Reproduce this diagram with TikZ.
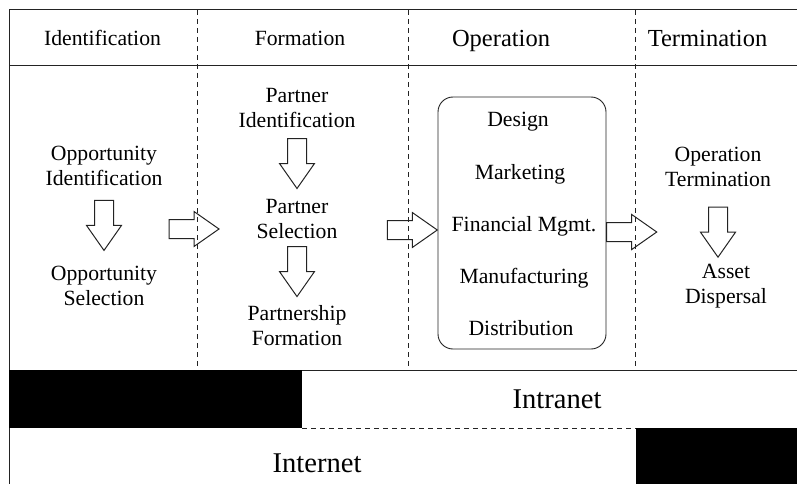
\documentclass[tikz,border=0pt]{standalone}
\usepackage{fontspec}
\setmainfont{Liberation Serif}
\usetikzlibrary{calc, positioning}
\definecolor{linecolor}{RGB}{35,35,35}
\definecolor{barcolor}{RGB}{0,0,0}

\begin{document}
\begin{tikzpicture}[x=1pt, y=-1pt,
  % Node styles
  phasehead/.style={
    anchor=base,
    inner sep=0pt,
    font=\fontsize{21.7}{25}\selectfont
  },
  stepnode/.style={
    anchor=base,
    inner sep=0pt,
    align=center,
    font=\fontsize{21.7}{25}\selectfont
  },
  opsbox/.style={
    rectangle,
    rounded corners=15pt,
    draw=linecolor,
    line width=0.9pt,
    minimum width=168pt,
    minimum height=252pt,
    inner sep=0pt
  },
  netlabel/.style={
    anchor=base,
    inner sep=0pt,
    font=\fontsize{28.6}{32}\selectfont
  },
  frameline/.style={draw=linecolor, line width=1pt},
  phasesep/.style={draw=linecolor, line width=0.8pt, dash pattern=on 5pt off 4pt},
  % hollow block arrow, 50pt long, centred between its two ends
  blockarrow/.style={
    draw=linecolor,
    line width=1pt,
    line join=miter,
    to path={
      let \p1=($(\tikztostart)!0.5!(\tikztotarget)$),
          \p2=($(\p1)!25pt!(\tikztostart)$),
          \p3=($(\p1)!25pt!(\tikztotarget)$),
          \p4=($(\p3)!25pt!(\p2)$)
      in ($(\p2)!9.5pt!90:(\p3)$) -- ($(\p4)!9.5pt!-90:(\p2)$)
         -- ($(\p4)!17.5pt!-90:(\p2)$) -- (\p3)
         -- ($(\p4)!17.5pt!90:(\p2)$) -- ($(\p4)!9.5pt!90:(\p2)$)
         -- ($(\p2)!9.5pt!-90:(\p3)$) -- cycle
    }
  }
]
\useasboundingbox (0,0) rectangle (797,484);

% ===== FRAME =====
\draw[frameline] (797,10) -- (9,10) -- (9,484);
\draw[frameline] (9,66) -- (797,66);
\draw[frameline] (9,370) -- (797,370);
\draw[phasesep] (197,10) -- (197,370);
\draw[phasesep] (408,10) -- (408,370);
\draw[phasesep] (635,10) -- (635,370);

% ===== PHASE HEADINGS =====
\node[phasehead] (h-ident) at (102.5,46) {Identification};
\node[phasehead] (h-form) at (300,46) {Formation};
\node[phasehead, font=\fontsize{24.5}{28}\selectfont] (h-oper) at (501,47) {Operation};
\node[phasehead, font=\fontsize{24.5}{28}\selectfont] (h-term) at (707.5,47) {Termination};

% ===== IDENTIFICATION =====
\node[stepnode] (oppid) at (104,185) {Opportunity\\Identification};
\node[stepnode] (oppsel) at (104,305) {Opportunity\\Selection};

% ===== FORMATION =====
\node[stepnode] (parid) at (297,128) {Partner\\Identification};
\node[stepnode] (parsel) at (297,238) {Partner\\Selection};
\node[stepnode] (parform) at (297,345) {Partnership\\Formation};

% ===== OPERATION =====
\node[opsbox] (ops) at (522,223) {};
\node[stepnode] (design) at (518,127) {Design};
\node[stepnode] (market) at (520,179) {Marketing};
\node[stepnode] (finance) at (524,231) {Financial Mgmt.};
\node[stepnode] (manuf) at (524,283) {Manufacturing};
\node[stepnode] (distrib) at (521,335) {Distribution};

% ===== TERMINATION =====
\node[stepnode] (optrm) at (718,186) {Operation\\Termination};
\node[stepnode] (asset) at (726,303) {Asset\\Dispersal};
\coordinate (asset-top) at ([yshift=25pt]asset.base);

% ===== ARROWS: within phases =====
\draw[blockarrow] (oppid.south) to (oppsel.north);
\draw[blockarrow] (parid.south) to (parsel.north);
\draw[blockarrow] (parsel.south) to (parform.north);
\draw[blockarrow] (optrm.south) to (optrm.south |- asset-top);

% ===== ARROWS: between phases =====
\coordinate (ident-out) at (169,229);
\coordinate (form-in) at (219,229);
\coordinate (form-out) at (387,230);
\coordinate (ops-in) at (form-out -| ops.west);
\coordinate (term-in) at (657,232);
\coordinate (ops-out) at (ops.east |- term-in);
\draw[blockarrow] (ident-out) to (form-in);
\draw[blockarrow] (form-out) to (ops-in);
\draw[blockarrow] (ops-out) to (term-in);

% ===== NETWORKS =====
\fill[barcolor] (9,370) rectangle (302,428);
\fill[barcolor] (636,428) rectangle (797,484);
\draw[phasesep] (302,428) -- (636,428);
\node[netlabel] (intranet) at (557,408) {Intranet};
\node[netlabel] (internet) at (317,472) {Internet};

\end{tikzpicture}
\end{document}
